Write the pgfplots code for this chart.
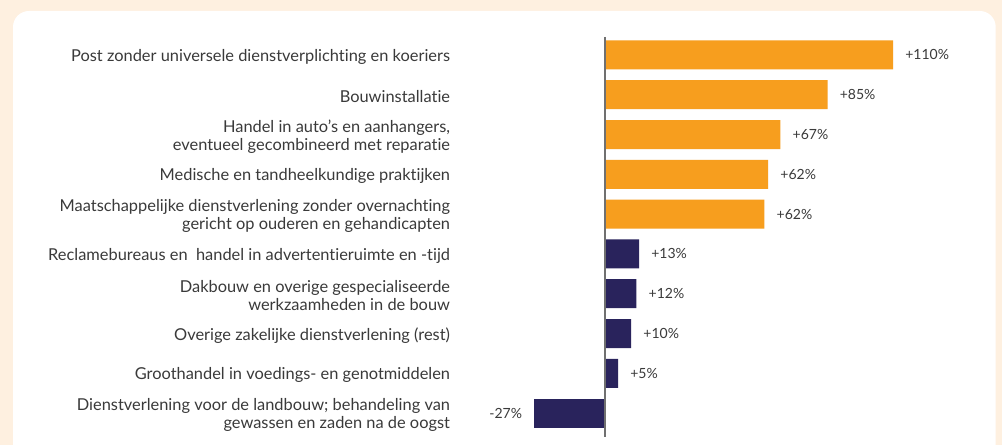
\documentclass[border=0pt]{standalone}
\usepackage{pgfplots}
\pgfplotsset{compat=1.18}
\usepackage{fontspec}
\setmainfont{Lato}[Ligatures={NoCommon}]
\definecolor{bgcream}{HTML}{FEF0E0}
\definecolor{barorange}{HTML}{F79E1E}
\definecolor{barnavy}{HTML}{29235C}
\definecolor{txt}{HTML}{3A3A3A}
\definecolor{zeroline}{HTML}{707070}

\pgfplotstableread{
x y lab
110 0 +110\%
85 1 +85\%
67 2 +67\%
62.3 3 +62\%
60.9 4 +62\%
}\orangedata
\pgfplotstableread{
x y lab
13 5 +13\%
12 6 +12\%
10 7 +10\%
5 8 +5\%
}\navypos
\pgfplotstableread{
x y lab
-27 9 -27\%
}\navyneg

\begin{document}
\begin{tikzpicture}[x=0.75pt,y=0.75pt]
\useasboundingbox (0,0) rectangle (1002,445);
\fill[bgcream] (0,0) rectangle (1002,445);
\fill[white,rounded corners=12] (13,-20) rectangle (995.7,434);
\begin{axis}[
  at={(394.845pt,6pt)}, anchor=south west,
  scale only axis, width=314.2pt, height=300pt,
  xbar, bar width=21.75pt, bar shift=0pt,
  xmin=-30, xmax=130,
  ymin=-0.45, ymax=9.6, y dir=reverse,
  hide x axis,
  y axis line style={draw=none},
  ytick style={draw=none},
  ytick={0,...,9},
  yticklabels={
    Post zonder universele dienstverplichting en koeriers,
    Bouwinstallatie,
    {Handel in auto’s en aanhangers,\\ eventueel gecombineerd met reparatie},
    Medische en tandheelkundige praktijken,
    {Maatschappelijke dienstverlening zonder overnachting\\ gericht op ouderen en gehandicapten},
    Reclamebureaus en\ \ handel in advertentieruimte en -tijd,
    {Dakbouw en overige gespecialiseerde\ \\ werkzaamheden in de bouw},
    Overige zakelijke dienstverlening (rest),
    Groothandel in voedings- en genotmiddelen,
    {Dienstverlening voor de landbouw; behandeling van\\ gewassen en zaden na de oogst}
  },
  yticklabel style={align=right, anchor=east, xshift=-49.5pt, yshift=-1.5pt,
    font=\fontsize{12.3}{13.2}\selectfont, text=txt},
  point meta=explicit symbolic,
  nodes near coords,
  every node near coord/.append style={font=\fontsize{10.5}{12}\selectfont,
    text=txt, inner xsep=9pt},
  clip=false,
]
\addplot[draw=none, fill=barorange,
  every node near coord/.append style={anchor=west}]
  table[x=x, y=y, meta=lab] {\orangedata};
\addplot[draw=none, fill=barnavy,
  every node near coord/.append style={anchor=west}]
  table[x=x, y=y, meta=lab] {\navypos};
\addplot[draw=none, fill=barnavy,
  every node near coord/.append style={anchor=east}]
  table[x=x, y=y, meta=lab] {\navyneg};
\draw[zeroline, line width=1pt] (axis cs:0,-0.45) -- (axis cs:0,9.6);
\end{axis}
\end{tikzpicture}
\end{document}
